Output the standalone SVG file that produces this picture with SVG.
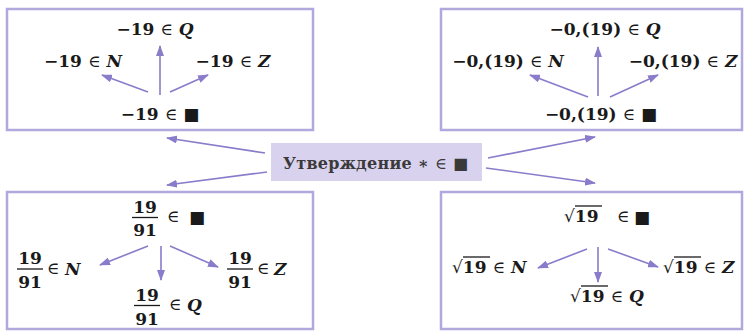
<svg xmlns="http://www.w3.org/2000/svg" width="745" height="332" viewBox="0 0 745 332">
<style>
.box{fill:#fff;stroke:#b3a8dd;stroke-width:2.5}
.hub{fill:#d9d2ef;stroke:none}
.t{font-family:"DejaVu Serif","Liberation Serif",serif;font-weight:bold;font-size:17px;fill:#1a1a1a}
.m{font-weight:normal;font-family:"DejaVu Serif","DejaVu Sans",serif}
.i{font-style:italic}
.sq{font-family:"DejaVu Sans",sans-serif;font-weight:normal}
.hubt{font-family:"DejaVu Serif","Liberation Serif",serif;font-weight:bold;font-size:16px;fill:#3a3a3a}
.bar{stroke:#1a1a1a;stroke-width:1.3}
.c{stroke:#8a7bcb;stroke-width:1.6;fill:none;marker-end:url(#ah)}
</style>
<defs>
<marker id="ah" markerUnits="userSpaceOnUse" markerWidth="11" markerHeight="8" refX="10" refY="4" orient="auto">
<path d="M0,0 L11,4 L0,8 z" fill="#8a7bcb"/>
</marker>
</defs>

<g id="box-integer">
<rect class="box" x="7" y="9" width="306" height="121"/>
<g id="s-m19"><text class="t" x="160" y="120" text-anchor="middle">−19 <tspan class="m">∈</tspan> <tspan class="sq">■</tspan></text></g>
<g id="s-m19-N"><text class="t" x="83" y="67" text-anchor="middle">−19 <tspan class="m">∈</tspan> <tspan class="i">N</tspan></text></g>
<g id="s-m19-Q"><text class="t" x="155" y="35" text-anchor="middle">−19 <tspan class="m">∈</tspan> <tspan class="i">Q</tspan></text></g>
<g id="s-m19-Z"><text class="t" x="233" y="67" text-anchor="middle">−19 <tspan class="m">∈</tspan> <tspan class="i">Z</tspan></text></g>
</g>

<g id="box-periodic">
<rect class="box" x="441" y="9" width="301" height="121"/>
<g id="s-p"><text class="t" x="601" y="120" text-anchor="middle">−0,(19) <tspan class="m">∈</tspan> <tspan class="sq">■</tspan></text></g>
<g id="s-p-N"><text class="t" x="508" y="67" text-anchor="middle">−0,(19) <tspan class="m">∈</tspan> <tspan class="i">N</tspan></text></g>
<g id="s-p-Q"><text class="t" x="605" y="35" text-anchor="middle">−0,(19) <tspan class="m">∈</tspan> <tspan class="i">Q</tspan></text></g>
<g id="s-p-Z"><text class="t" x="683" y="67" text-anchor="middle">−0,(19) <tspan class="m">∈</tspan> <tspan class="i">Z</tspan></text></g>
</g>

<g id="box-fraction">
<rect class="box" x="7" y="192" width="306" height="137"/>
<g id="s-f">
<text class="t" x="145" y="213" text-anchor="middle">19</text>
<line class="bar" x1="132" y1="217.5" x2="158" y2="217.5"/>
<text class="t" x="145" y="236" text-anchor="middle">91</text>
<text class="t" x="173" y="222" text-anchor="middle"><tspan class="m">∈</tspan></text>
<text class="t" x="197" y="223" text-anchor="middle"><tspan class="sq">■</tspan></text>
</g>
<g id="s-f-N">
<text class="t" x="30" y="264" text-anchor="middle">19</text>
<line class="bar" x1="17" y1="269" x2="43" y2="269"/>
<text class="t" x="30" y="288" text-anchor="middle">91</text>
<text class="t" x="53" y="274" text-anchor="middle"><tspan class="m">∈</tspan></text>
<text class="t" x="65" y="275"><tspan class="i">N</tspan></text>
</g>
<g id="s-f-Z">
<text class="t" x="240" y="264" text-anchor="middle">19</text>
<line class="bar" x1="227" y1="269" x2="253" y2="269"/>
<text class="t" x="240" y="288" text-anchor="middle">91</text>
<text class="t" x="263" y="274" text-anchor="middle"><tspan class="m">∈</tspan></text>
<text class="t" x="274" y="275"><tspan class="i">Z</tspan></text>
</g>
<g id="s-f-Q">
<text class="t" x="147" y="301" text-anchor="middle">19</text>
<line class="bar" x1="134" y1="305.5" x2="160" y2="305.5"/>
<text class="t" x="147" y="325" text-anchor="middle">91</text>
<text class="t" x="175" y="310" text-anchor="middle"><tspan class="m">∈</tspan></text>
<text class="t" x="187" y="311"><tspan class="i">Q</tspan></text>
</g>
</g>

<g id="box-root">
<rect class="box" x="441" y="192" width="301" height="137"/>
<g id="s-r">
<text class="t" x="564" y="222"><tspan class="sq">√</tspan>19</text>
<line class="bar" x1="575" y1="206" x2="602" y2="206"/>
<text class="t" x="623" y="222" text-anchor="middle"><tspan class="m">∈</tspan></text>
<text class="t" x="642" y="223" text-anchor="middle"><tspan class="sq">■</tspan></text>
</g>
<g id="s-r-N">
<text class="t" x="452" y="273"><tspan class="sq">√</tspan>19 <tspan class="m">∈</tspan> <tspan class="i">N</tspan></text>
<line class="bar" x1="463" y1="257" x2="490" y2="257"/>
</g>
<g id="s-r-Z">
<text class="t" x="663" y="273"><tspan class="sq">√</tspan>19 <tspan class="m">∈</tspan> <tspan class="i">Z</tspan></text>
<line class="bar" x1="674" y1="257" x2="701" y2="257"/>
</g>
<g id="s-r-Q">
<text class="t" x="570" y="302"><tspan class="sq">√</tspan>19  <tspan class="m">∈</tspan> <tspan class="i">Q</tspan></text>
<line class="bar" x1="581" y1="286" x2="608" y2="286"/>
</g>
</g>

<g id="hub">
<rect class="hub" x="271" y="143" width="211" height="38"/>
<text class="hubt" x="283" y="169" textLength="185" lengthAdjust="spacing">Утверждение ∗ <tspan class="m">∈</tspan> <tspan class="sq">■</tspan></text>
</g>

<g id="connectors">
<path class="c" d="M265,153 L167,138"/>
<path class="c" d="M267,172 L167,185"/>
<path class="c" d="M488,158 L595,137"/>
<path class="c" d="M486,168 L595,183"/>
<path class="c" d="M160,95 L160,46"/>
<path class="c" d="M148,92 L102,75"/>
<path class="c" d="M170,92 L208,75"/>
<path class="c" d="M598,96 L598,47"/>
<path class="c" d="M588,97 L530,75"/>
<path class="c" d="M610,97 L658,75"/>
<path class="c" d="M148,246 L100,265"/>
<path class="c" d="M161,246 L161,280"/>
<path class="c" d="M170,246 L218,267"/>
<path class="c" d="M587,249 L538,268"/>
<path class="c" d="M598,247 L598,282"/>
<path class="c" d="M608,249 L658,267"/>
</g>
</svg>
